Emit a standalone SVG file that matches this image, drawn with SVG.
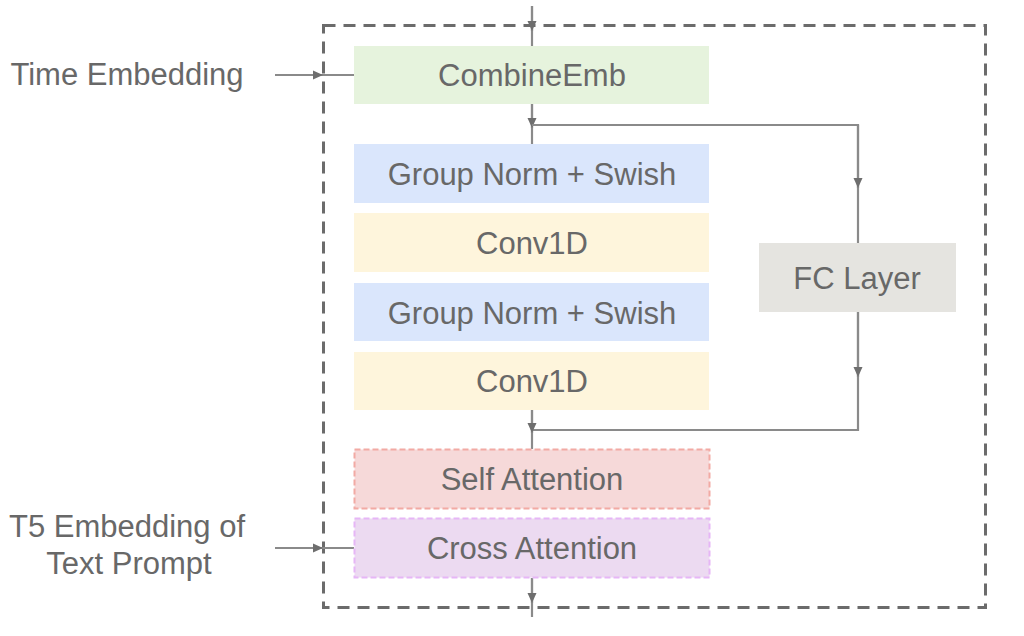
<svg xmlns="http://www.w3.org/2000/svg" width="1024" height="636" viewBox="0 0 1024 636">
<defs>
<marker id="ah" viewBox="0 0 10 10" refX="10" refY="5" markerWidth="10" markerHeight="10" markerUnits="userSpaceOnUse" orient="auto">
<path d="M0,0.5 L10,5 L0,9.5 Z" fill="#6e6e6e"/>
</marker>
<style>
.lbl{font-family:"Liberation Sans",Arial,sans-serif;font-size:31px;fill:#686868;text-anchor:middle}
.cn{fill:none;stroke:#8a8a8a;stroke-width:2.2}
</style>
</defs>
<rect width="1024" height="636" fill="#ffffff"/>
<rect id="frame" x="323.5" y="25.5" width="662" height="582" fill="none" stroke="#6b6b6b" stroke-width="3" stroke-dasharray="12 8"/>
<g id="connectors">
<line class="cn" x1="532" y1="6" x2="532" y2="46"/>
<path class="cn" d="M532,6 V31" marker-end="url(#ah)"/>
<line class="cn" x1="275" y1="75" x2="354" y2="75"/>
<path class="cn" d="M275,75 H323" marker-end="url(#ah)"/>
<line class="cn" x1="532" y1="104" x2="532" y2="144"/>
<path class="cn" d="M532,104 V128" marker-end="url(#ah)"/>
<polyline class="cn" points="532,125 858,125 858,243"/>
<path class="cn" d="M858,125 V188" marker-end="url(#ah)"/>
<polyline class="cn" points="858,312 858,430 532,430"/>
<path class="cn" d="M858,312 V377" marker-end="url(#ah)"/>
<line class="cn" x1="532" y1="410" x2="532" y2="449"/>
<path class="cn" d="M532,410 V433" marker-end="url(#ah)"/>
<line class="cn" x1="275" y1="548" x2="354" y2="548"/>
<path class="cn" d="M275,548 H323" marker-end="url(#ah)"/>
<line class="cn" x1="532" y1="578" x2="532" y2="617"/>
<path class="cn" d="M532,578 V603" marker-end="url(#ah)"/>
</g>
<g id="time-embedding"><text class="lbl" x="127" y="85">Time Embedding</text></g>
<g id="t5-embedding"><text class="lbl" x="127" y="537">T5 Embedding of</text><text class="lbl" x="129" y="574">Text Prompt</text></g>
<g id="combine-emb"><rect x="354" y="46" width="355" height="58" fill="#e6f3dd"/><text class="lbl" x="532" y="86">CombineEmb</text></g>
<g id="group-norm-1"><rect x="354" y="144" width="355" height="59" fill="#dae6fc"/><text class="lbl" x="532" y="185">Group Norm + Swish</text></g>
<g id="conv1d-1"><rect x="354" y="213" width="355" height="59" fill="#fef5dc"/><text class="lbl" x="532" y="254">Conv1D</text></g>
<g id="group-norm-2"><rect x="354" y="283" width="355" height="58" fill="#dae6fc"/><text class="lbl" x="532" y="324">Group Norm + Swish</text></g>
<g id="conv1d-2"><rect x="354" y="352" width="355" height="58" fill="#fef5dc"/><text class="lbl" x="532" y="392">Conv1D</text></g>
<g id="fc-layer"><rect x="759" y="243" width="197" height="69" fill="#e5e4e0"/><text class="lbl" x="857" y="289">FC Layer</text></g>
<g id="self-attention"><rect x="354.5" y="449.5" width="355" height="59" fill="#f6d9d9" stroke="#f2aaa4" stroke-width="2" stroke-dasharray="6 3"/><text class="lbl" x="532" y="490">Self Attention</text></g>
<g id="cross-attention"><rect x="354.5" y="518.5" width="355" height="59" fill="#ecdaf1" stroke="#e6b6f6" stroke-width="2" stroke-dasharray="6 3"/><text class="lbl" x="532" y="559">Cross Attention</text></g>
</svg>
